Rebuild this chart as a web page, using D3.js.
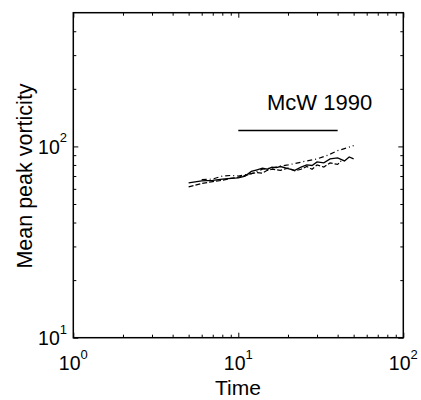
<!DOCTYPE html>
<html><head><meta charset="utf-8">
<script src="https://cdn.jsdelivr.net/npm/d3@7"></script>
<style>body{margin:0;background:#fff}svg{display:block}text{font-family:"Liberation Sans",Arial,sans-serif;fill:#000}</style>
</head><body><svg id="c" width="421" height="400"></svg>
<script>
const xDomain = [1, 100];
const yDomain = [10, 500];
const xMajorTicks = [1, 10, 100];
const yMajorTicks = [10, 100];
const xTickExp = ["0", "1", "2"];
const yTickExp = ["1", "2"];
const xLabel = "Time";
const yLabel = "Mean peak vorticity";
const annotText = "McW 1990";
const mcwTime = [10, 40];
const mcwValue = [121, 121];

const timeA = [5, 6, 7, 8, 9, 10, 11, 12, 13, 14, 15, 16, 17, 18, 20, 22, 24, 26, 28, 30, 33, 36, 40, 44, 47, 50];
const valueA = [64.5, 66, 66.5, 67.5, 68, 68.5, 70, 74, 75.5, 77, 76, 78, 77.5, 78.5, 76.5, 75, 78, 80, 79.5, 83, 82, 86, 87, 84, 88, 86];
const timeB = [5, 6, 7, 8, 9, 10, 11, 12, 13, 14, 15, 16, 18, 20, 22, 24, 26, 28, 30, 33, 36, 40, 42];
const valueB = [61.5, 64, 65.5, 66.5, 68, 69, 70.5, 72, 73, 72.5, 75, 76, 75, 77, 74.5, 76, 78.5, 76, 80, 78, 82, 80.5, 84];
const timeC = [6, 7, 8, 9, 10, 12, 14, 16, 18, 20, 23, 26, 30, 35, 40, 45, 50];
const valueC = [67, 67.5, 70, 70.5, 70, 72, 76, 77, 79, 80, 82, 84, 86, 90, 95, 98, 101];

const svg = d3.select("#c");
const L = 73.3, R = 403.3, T = 12.7, B = 337.7;
const x = d3.scaleLog().domain(xDomain).range([L, R]);
const y = d3.scaleLog().domain(yDomain).range([B, T]);

const minorX = [];
for (let d = 1; d < 100; d *= 10) for (let k = 2; k <= 9; k++) minorX.push(d * k);
const minorY = [];
for (let d = 10; d < 1000; d *= 10) for (let k = 2; k <= 9; k++) if (d * k < 500) minorY.push(d * k);

const g = svg.append("g");
function ticks(axisFn, scale, vals, size, pos) {
  const a = axisFn(scale).tickValues(vals).tickSize(size).tickFormat("");
  const gg = g.append("g").attr("transform", pos).call(a);
  gg.select(".domain").remove();
  gg.selectAll("line").attr("stroke", "#000").attr("stroke-width", 1);
}
ticks(d3.axisTop, x, xMajorTicks, 5, `translate(0,${B})`);
ticks(d3.axisTop, x, minorX, 3, `translate(0,${B})`);
ticks(d3.axisBottom, x, xMajorTicks, 5, `translate(0,${T})`);
ticks(d3.axisBottom, x, minorX, 3, `translate(0,${T})`);
ticks(d3.axisRight, y, yMajorTicks, 5, `translate(${L},0)`);
ticks(d3.axisRight, y, minorY, 3, `translate(${L},0)`);
ticks(d3.axisLeft, y, yMajorTicks, 5, `translate(${R},0)`);
ticks(d3.axisLeft, y, minorY, 3, `translate(${R},0)`);

g.append("rect").attr("x", L).attr("y", T).attr("width", R - L).attr("height", B - T)
  .attr("fill", "none").attr("stroke", "#000").attr("stroke-width", 1.5);

xMajorTicks.forEach((v, i) => {
  const t = g.append("text").attr("x", x(v)).attr("y", 370).attr("text-anchor", "middle").attr("font-size", 19.5);
  t.append("tspan").text("10");
  t.append("tspan").attr("dy", -11.5).attr("font-size", 13).text(xTickExp[i]);
});
yMajorTicks.forEach((v, i) => {
  const t = g.append("text").attr("x", 67).attr("y", y(v) + 7.5).attr("text-anchor", "end").attr("font-size", 19.5);
  t.append("tspan").text("10");
  t.append("tspan").attr("dy", -11.5).attr("font-size", 13).text(yTickExp[i]);
});

g.append("text").attr("x", 238).attr("y", 395).attr("text-anchor", "middle").attr("font-size", 21).text(xLabel);
g.append("text").attr("transform", `translate(32,176) rotate(-90)`).attr("text-anchor", "middle").attr("font-size", 21.5).text(yLabel);

const line = d3.line().x(d => x(d[0])).y(d => y(d[1]));
g.append("path").datum(d3.zip(mcwTime, mcwValue)).attr("d", line)
  .attr("fill", "none").attr("stroke", "#000").attr("stroke-width", 1.6);
g.append("text").attr("x", 267).attr("y", 110).attr("font-size", 22).text(annotText);

g.append("path").datum(d3.zip(timeA, valueA)).attr("d", line)
  .attr("fill", "none").attr("stroke", "#000").attr("stroke-width", 1.3);
g.append("path").datum(d3.zip(timeB, valueB)).attr("d", line)
  .attr("fill", "none").attr("stroke", "#000").attr("stroke-width", 1.2).attr("stroke-dasharray", "5,2");
g.append("path").datum(d3.zip(timeC, valueC)).attr("d", line)
  .attr("fill", "none").attr("stroke", "#000").attr("stroke-width", 1.2).attr("stroke-dasharray", "5,3,1,3");
</script></body></html>
